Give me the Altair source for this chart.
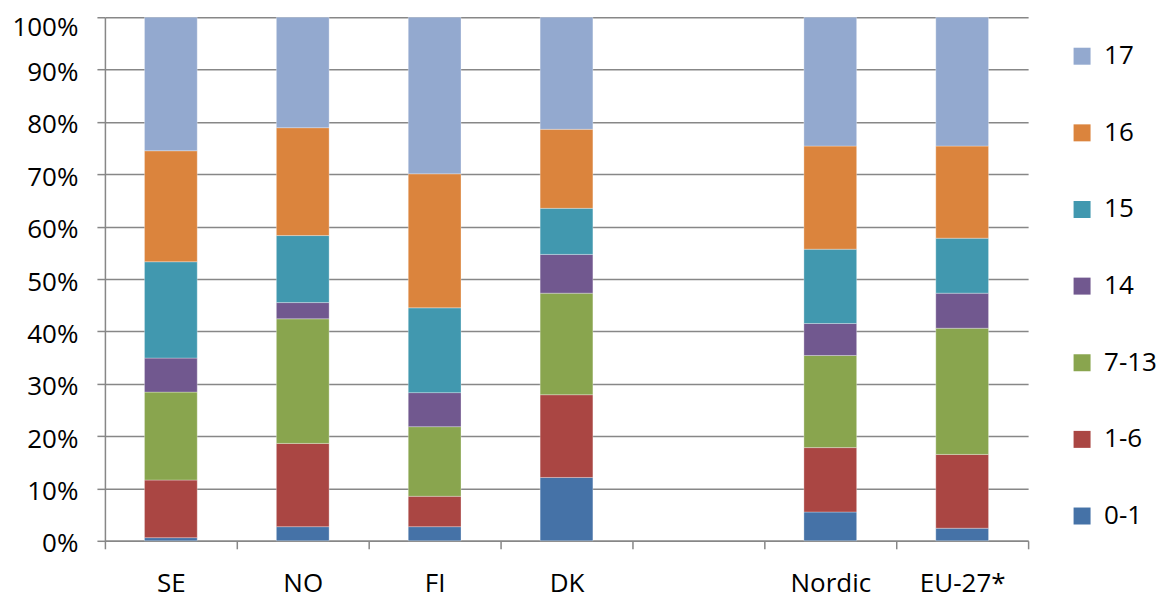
import altair as alt
import pandas as pd

# Categories (a blank slot separates country bars from aggregates)
countries = ["SE", "NO", "FI", "DK", "Nordic", "EU-27*"]
x_domain = ["SE", "NO", "FI", "DK", " ", "Nordic", "EU-27*"]

# Stack groups, bottom to top
groups = ["0-1", "1-6", "7-13", "14", "15", "16", "17"]

# Shares (%) per group, in order of `countries`
v_0_1 = [0.6, 2.7, 2.7, 12.1, 5.5, 2.4]
v_1_6 = [11.0, 15.9, 5.8, 15.8, 12.3, 14.1]
v_7_13 = [16.8, 23.8, 13.3, 19.4, 17.6, 24.1]
v_14 = [6.5, 3.1, 6.5, 7.4, 6.1, 6.7]
v_15 = [18.4, 12.8, 16.2, 8.8, 14.2, 10.5]
v_16 = [21.2, 20.6, 25.6, 15.1, 19.7, 17.6]
v_17 = [25.5, 21.1, 29.9, 21.4, 24.6, 24.6]

group_values = [v_0_1, v_1_6, v_7_13, v_14, v_15, v_16, v_17]
group_colors = ["#4572A7", "#AA4643", "#89A54E", "#71588F", "#4198AF", "#DB843D", "#93A9CF"]

y_ticks = list(range(0, 101, 10))

rows = []
for gi, (g, vals) in enumerate(zip(groups, group_values)):
    for c, v in zip(countries, vals):
        rows.append({"country": c, "group": g, "value": v, "idx": gi})
df = pd.DataFrame(rows)

legend_domain = groups[::-1]
legend_range = group_colors[::-1]

grid_color = "#878787"

chart = alt.Chart(df).mark_bar(
    width=alt.RelativeBandSize(0.4),
    stroke="#ffffff", strokeWidth=0.6, strokeOpacity=0.5,
).encode(
    x=alt.X(
        "country:N",
        scale=alt.Scale(domain=x_domain, paddingInner=0, paddingOuter=0),
        axis=alt.Axis(
            title=None,
            labelAngle=0,
            tickBand="extent",
            tickSize=8,
            tickColor=grid_color,
            tickWidth=1.5,
            domainColor=grid_color,
            domainWidth=1.5,
            labelFontSize=26,
            labelColor="#000000",
            labelBaseline="alphabetic",
            labelPadding=43,
            grid=False,
        ),
    ),
    y=alt.Y(
        "value:Q",
        stack="zero",
        scale=alt.Scale(domain=[0, 100], nice=False),
        axis=alt.Axis(
            title=None,
            values=y_ticks,
            labelExpr="datum.value + '%'",
            tickSize=8,
            tickColor=grid_color,
            tickWidth=1.5,
            domainColor=grid_color,
            domainWidth=1.5,
            gridColor=grid_color,
            gridWidth=1.5,
            labelFontSize=26,
            labelColor="#000000",
            labelPadding=19,
            labelOffset={"condition": {"test": "datum.value == 100", "value": 10.5}, "value": 3},
        ),
    ),
    color=alt.Color(
        "group:N",
        scale=alt.Scale(domain=legend_domain, range=legend_range),
        legend=alt.Legend(
            title=None,
            orient="none",
            legendX=965,
            legendY=26,
            symbolType="square",
            symbolSize=289,
            symbolStrokeWidth=0,
            labelFontSize=26,
            labelColor="#000000",
            labelOffset=9,
            rowPadding=50.7,
            padding=0,
        ),
    ),
    order=alt.Order("idx:Q", sort="ascending"),
).properties(
    width=924,
    height=524,
    autosize=alt.AutoSizeParams(type="none"),
    padding={"left": 97, "top": 9, "right": 130, "bottom": 58},
).configure(
    font="Open Sans",
).configure_view(
    stroke=None,
)

chart.save("out.html", embed_options={"renderer": "svg", "actions": False})
